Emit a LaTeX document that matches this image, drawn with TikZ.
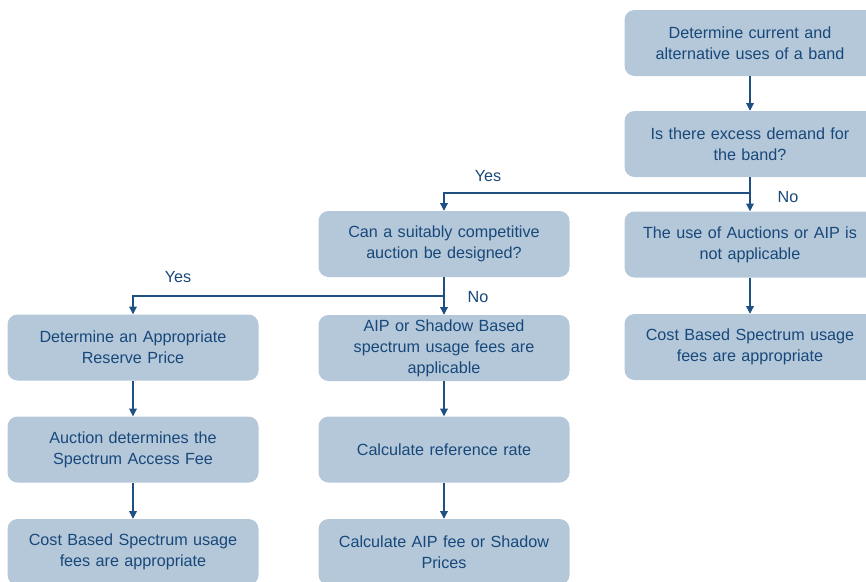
\documentclass[tikz,border=0pt]{standalone}
\usepackage{fontspec}
\setmainfont{Liberation Sans}
\usetikzlibrary{arrows.meta}
\definecolor{boxfill}{RGB}{180,200,217}
\definecolor{ink}{RGB}{24,72,122}
\definecolor{wire}{RGB}{30,80,130}
\tikzset{
    box/.style={rectangle, rounded corners=0.3cm, fill=boxfill, draw=none,
        minimum width=7.53cm, minimum height=1.98cm, text width=7.2cm,
        inner xsep=0.1cm, align=center, text=ink,
        font=\fontsize{13.8}{17.9}\selectfont},
    tag/.style={text=ink, font=\fontsize{13.8}{15}\selectfont, inner sep=0mm},
    wireline/.style={draw=wire, line width=0.9pt},
    arrow/.style={wireline, -{Triangle[width=6.5pt,length=6.5pt]}}
}

\begin{document}
\begin{tikzpicture}
    \clip (0cm, 0cm) rectangle (25.98cm, -17.43cm);

    \node (b1) at (22.5cm, -1.29cm) [box] {Determine current and\\alternative uses of a band};
    \node (b2) at (22.5cm, -4.32cm) [box] {Is there excess demand for\\the band?};
    \node (b3) at (13.32cm, -7.32cm) [box] {Can a suitably competitive\\auction be designed?};
    \node (b4) at (22.5cm, -7.335cm) [box] {The use of Auctions or AIP is\\not applicable};
    \node (b5) at (22.5cm, -10.41cm) [box] {Cost Based Spectrum usage\\fees are appropriate};
    \node (b6) at (3.99cm, -10.425cm) [box] {Determine an Appropriate\\Reserve Price};
    \node (b7) at (13.32cm, -10.44cm) [box] {AIP or Shadow Based\\spectrum usage fees are\\applicable};
    \node (b8) at (3.99cm, -13.485cm) [box] {Auction determines the\\Spectrum Access Fee};
    \node (b9) at (13.32cm, -13.485cm) [box] {Calculate reference rate};
    \node (b10) at (3.99cm, -16.56cm) [box] {Cost Based Spectrum usage\\fees are appropriate};
    \node (b11) at (13.32cm, -16.56cm) [box] {Calculate AIP fee or Shadow\\Prices};

    \coordinate (j1) at (22.5cm, -5.79cm);
    \coordinate (j2) at (13.32cm, -8.88cm);

    \draw[arrow] (b1) -- (b2);
    \draw[wireline] (b2) -- (j1);
    \draw[arrow] (j1) -| (b3);
    \draw[arrow] (j1) -- (b4);
    \draw[arrow] (b4) -- (b5);

    \draw[wireline] (b3) -- (j2);
    \draw[arrow] (j2) -| (b6);
    \draw[arrow] (j2) -- (b7);

    \draw[arrow] (b6) -- (b8);
    \draw[arrow] (b8) -- (b10);
    \draw[arrow] (b7) -- (b9);
    \draw[arrow] (b9) -- (b11);

    \node (yes1) at (14.64cm, -5.28cm) [tag] {Yes};
    \node (no1) at (23.64cm, -5.91cm) [tag] {No};
    \node (yes2) at (5.34cm, -8.31cm) [tag] {Yes};
    \node (no2) at (14.34cm, -8.91cm) [tag] {No};
\end{tikzpicture}
\end{document}
